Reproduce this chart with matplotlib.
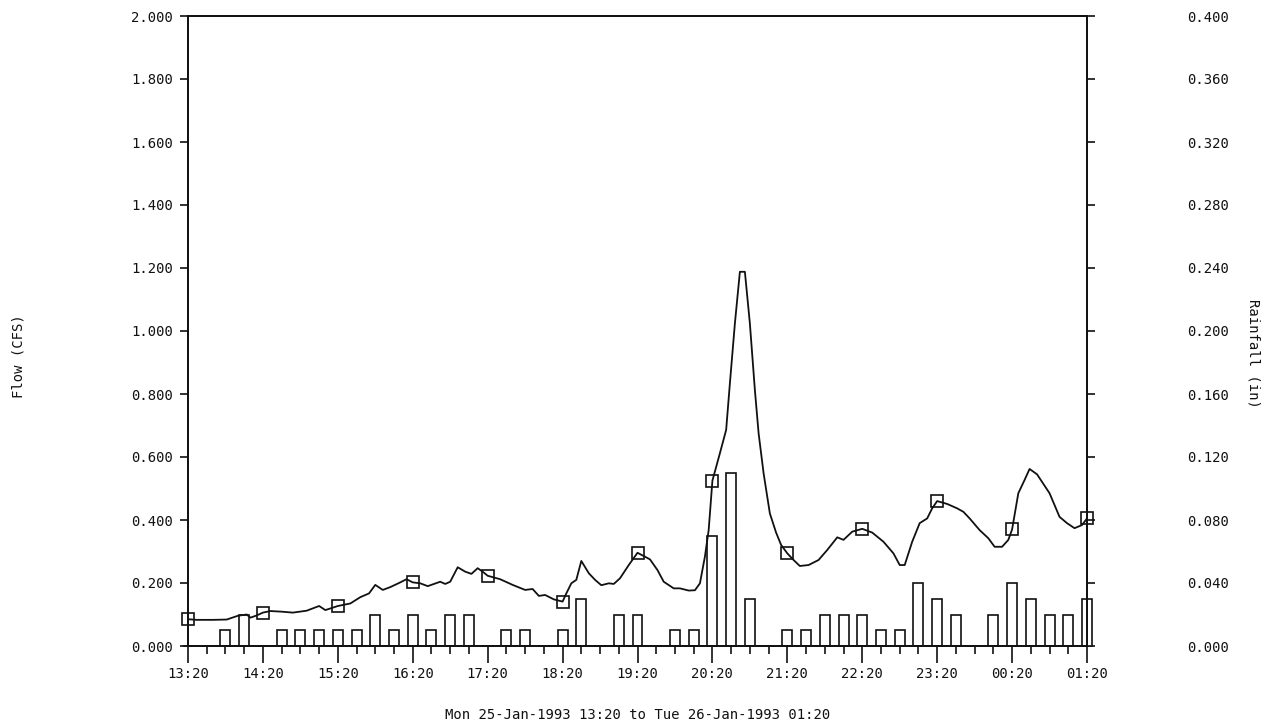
import numpy as np
import matplotlib
matplotlib.use("Agg")
import matplotlib.pyplot as plt
from matplotlib.ticker import MultipleLocator, FormatStrFormatter

# ---------------- data ----------------
# minutes after Mon 25-Jan-1993 13:20
flow_minutes = [0, 7, 20, 31, 40, 47, 50, 55, 60, 66, 75, 84, 95, 105, 110, 120,
                130, 138, 145, 150, 156, 162, 169, 175, 180, 186, 192, 202, 206, 210,
                216, 222, 227, 232, 236, 240, 250, 260, 270, 276, 281, 286, 293, 300,
                303, 307, 311, 315, 321, 326, 331, 337, 341, 346, 353, 360, 370, 376,
                381, 389, 394, 401, 406, 410, 414, 417, 420, 426, 431, 434, 438, 442,
                446, 450, 454, 457, 461, 466, 471, 475, 480, 485, 490, 497, 505, 512,
                520, 525, 532, 540, 548, 557, 565, 570, 574, 580, 586, 592, 596, 600,
                608, 616, 621, 626, 634, 641, 646, 652, 657, 660, 665, 670, 674, 680,
                685, 690, 698, 704, 710, 716, 720]
flow_cfs = [0.085, 0.083, 0.083, 0.084, 0.096, 0.100, 0.090, 0.097, 0.106, 0.111,
            0.109, 0.106, 0.112, 0.127, 0.114, 0.127, 0.135, 0.155, 0.167, 0.194,
            0.178, 0.187, 0.200, 0.212, 0.202, 0.199, 0.190, 0.204, 0.197, 0.204,
            0.250, 0.236, 0.229, 0.247, 0.236, 0.223, 0.212, 0.194, 0.178, 0.181,
            0.159, 0.162, 0.148, 0.141, 0.167, 0.199, 0.210, 0.270, 0.231, 0.210,
            0.193, 0.199, 0.197, 0.215, 0.257, 0.296, 0.275, 0.241, 0.204, 0.183,
            0.183, 0.176, 0.177, 0.199, 0.284, 0.368, 0.525, 0.612, 0.686, 0.834,
            1.024, 1.188, 1.188, 1.024, 0.813, 0.675, 0.548, 0.421, 0.360, 0.321,
            0.294, 0.273, 0.254, 0.257, 0.273, 0.305, 0.345, 0.337, 0.363, 0.372,
            0.360, 0.331, 0.294, 0.257, 0.257, 0.331, 0.390, 0.405, 0.437, 0.460,
            0.451, 0.437, 0.426, 0.405, 0.368, 0.342, 0.315, 0.315, 0.337, 0.370,
            0.485, 0.527, 0.562, 0.545, 0.515, 0.485, 0.410, 0.390, 0.374, 0.384,
            0.405]

# 15-minute rainfall (in)
rain_minutes = list(range(0, 721, 15))
rain_in = [0.00, 0.00, 0.01, 0.02, 0.00, 0.01, 0.01, 0.01, 0.01, 0.01,
           0.02, 0.01, 0.02, 0.01, 0.02, 0.02, 0.00, 0.01, 0.01, 0.00,
           0.01, 0.03, 0.00, 0.02, 0.02, 0.00, 0.01, 0.01, 0.07, 0.11,
           0.03, 0.00, 0.01, 0.01, 0.02, 0.02, 0.02, 0.01, 0.01, 0.04,
           0.03, 0.02, 0.00, 0.02, 0.04, 0.03, 0.02, 0.02, 0.03]

hour_ticks = [0, 60, 120, 180, 240, 300, 360, 420, 480, 540, 600, 660, 720]
hour_labels = ["13:20", "14:20", "15:20", "16:20", "17:20", "18:20", "19:20",
               "20:20", "21:20", "22:20", "23:20", "00:20", "01:20"]

x_title = "Mon 25-Jan-1993 13:20 to Tue 26-Jan-1993 01:20"
left_title = "Flow (CFS)"
right_title = "Rainfall (in)"

# ---------------- plot ----------------
plt.rcParams['font.family'] = ['DejaVu Sans Mono', 'DejaVu Sans']
plt.rcParams['font.size'] = 10
INK = "#111111"

fig = plt.figure(figsize=(12.77, 7.24), dpi=100, facecolor="white")
ax = fig.add_axes([188 / 1277, 78 / 724, 899 / 1277, 630 / 724])
ax2 = ax.twinx()
ax.set_zorder(ax2.get_zorder() + 1)
ax.patch.set_visible(False)

# rainfall bars
bars = ax2.bar(rain_minutes, rain_in, width=8, facecolor="white", edgecolor=INK,
               linewidth=1.2, zorder=2)
for b in bars:
    b.set_clip_on(False)
ax2.set_ylim(0, 0.4)
ax2.yaxis.set_major_locator(MultipleLocator(0.04))
ax2.yaxis.set_major_formatter(FormatStrFormatter("%.3f"))

# flow line with hourly markers
marker_idx = [i for i, t in enumerate(flow_minutes) if t in hour_ticks]
ax.plot(flow_minutes, flow_cfs, color=INK, linewidth=1.3, marker="s",
        markevery=marker_idx, markersize=8, markerfacecolor="none",
        markeredgecolor=INK, markeredgewidth=1.2, zorder=3, clip_on=False)
ax.set_ylim(0, 2.0)
ax.set_xlim(0, 720)
ax.yaxis.set_major_locator(MultipleLocator(0.2))
ax.yaxis.set_major_formatter(FormatStrFormatter("%.3f"))
ax.set_xticks(hour_ticks, labels=hour_labels)
ax.xaxis.set_minor_locator(MultipleLocator(15))

for a in (ax, ax2):
    for s in a.spines.values():
        s.set_color(INK)
        s.set_linewidth(1.3)

ax.tick_params(axis="x", which="major", direction="out", length=12, width=1.2,
               pad=3, colors=INK, labelsize=10)
ax.tick_params(axis="x", which="minor", direction="out", length=5.5, width=1.2,
               colors=INK)
ax.tick_params(axis="y", which="major", direction="out", length=6, width=1.2,
               pad=5, colors=INK, labelsize=10)
ax2.tick_params(axis="y", which="major", direction="out", length=6, width=1.2,
                pad=66, colors=INK, labelsize=10)

ax.set_xlabel(x_title, fontsize=10, color=INK)
ax.xaxis.set_label_coords(0.5, -0.1095)
ax.xaxis.label.set_va("center")

ax.set_ylabel(left_title, fontsize=10, color=INK)
ax.yaxis.set_label_coords(-0.189, 0.46)
ax.yaxis.label.set_va("center")

ax2.set_ylabel(right_title, fontsize=10, color=INK, rotation=270)
ax2.yaxis.set_label_coords(1.185, 0.465)
ax2.yaxis.label.set_va("center")

fig.savefig("out.png", dpi=100, facecolor="white")
